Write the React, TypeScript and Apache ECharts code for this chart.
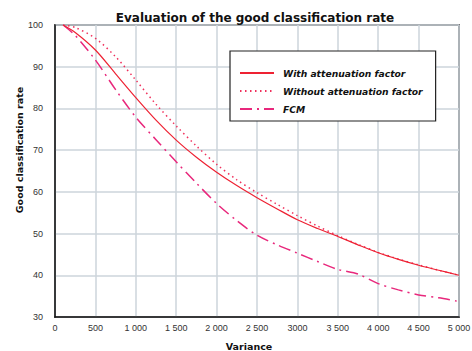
import React, { useEffect, useRef } from "react";
import * as echarts from "echarts";

const variance = [100, 250, 500, 750, 1000, 1250, 1500, 1750, 2000, 2250, 2500, 2750, 3000, 3250, 3500, 3750, 4000, 4250, 4500, 4750, 5000];
const withAttenuation = [100, 98.2, 94, 88.3, 82.6, 77.2, 72.4, 68.3, 64.7, 61.5, 58.6, 55.9, 53.3, 51.2, 49.3, 47.3, 45.4, 43.8, 42.4, 41.2, 40];
const withoutAttenuation = [100, 99.4, 96.8, 92.4, 86.8, 81, 75.8, 71, 66.6, 62.9, 59.8, 57, 54.3, 51.8, 49.5, 47.4, 45.5, 43.9, 42.5, 41.2, 40];
const fcm = [100, 97.5, 91.6, 84.5, 77.9, 72.5, 67.2, 62.1, 57.2, 53.1, 49.6, 47.3, 45.3, 43.3, 41.4, 40.3, 38, 36.5, 35.3, 34.6, 33.7];
const xTickValues = [0, 500, 1000, 1500, 2000, 2500, 3000, 3500, 4000, 4500, 5000];
const xTickLabels = ["0", "500", "1 000", "1 500", "2 000", "2 500", "3000", "3 500", "4 000", "4 500", "5 000"];
const seriesNames = ["With attenuation factor", "Without attenuation factor", "FCM"];

const FONT = "Liberation Sans, Arial, sans-serif";
const BOLD_FONT = "DejaVu Sans, Liberation Sans, sans-serif";

export default function App() {
  const ref = useRef<HTMLDivElement>(null);
  useEffect(() => {
    document.body.style.margin = "0";
    const chart = echarts.init(ref.current!, null, { renderer: "svg" });
    const pairs = (ys: number[]) => variance.map((x, i) => [x, ys[i]]);
    chart.setOption({
      animation: false,
      backgroundColor: "#ffffff",
      title: {
        text: "Evaluation of the good classification rate",
        left: 250,
        textAlign: "center",
        top: 7,
        textStyle: { fontFamily: BOLD_FONT, fontSize: 12, fontWeight: "bold", color: "#111" },
      },
      grid: {
        left: 55,
        right: 13,
        top: 25,
        bottom: 34,
        outerBoundsMode: "none",
        containLabel: false,
        show: true,
        borderColor: "#111",
        borderWidth: 1.5,
        backgroundColor: "transparent",
      },
      legend: {
        orient: "vertical",
        left: 230,
        top: 51,
        padding: [16, 13, 6, 9],
        backgroundColor: "#ffffff",
        borderColor: "#222",
        borderWidth: 1.2,
        itemWidth: 34,
        itemHeight: 12,
        itemGap: 6,
        data: seriesNames,
        itemStyle: { opacity: 0 },
        textStyle: {
          fontFamily: BOLD_FONT,
          fontSize: 9.2,
          fontWeight: "bold",
          fontStyle: "italic",
          color: "#111",
          lineHeight: 12,
          padding: [0, 0, 0, 4],
        },
      },
      xAxis: {
        type: "value",
        min: 0,
        max: 5000,
        interval: 500,
        name: "Variance",
        nameLocation: "middle",
        nameGap: 24,
        nameMoveOverlap: false,
        nameTextStyle: { fontFamily: BOLD_FONT, fontSize: 9.5, fontWeight: "bold", color: "#111", padding: [0, 16, 0, 0] },
        axisLine: { lineStyle: { color: "#111", width: 1.5 } },
        axisTick: { show: false },
        axisLabel: {
          fontFamily: FONT,
          fontSize: 9,
          color: "#333",
          margin: 6,
          formatter: (v: number) => {
            const i = xTickValues.indexOf(v);
            return i >= 0 ? xTickLabels[i] : "";
          },
        },
        splitLine: { show: true, lineStyle: { color: "#cdd5db", width: 1.5 } },
      },
      yAxis: {
        type: "value",
        min: 30,
        max: 100,
        interval: 10,
        name: "Good classification rate",
        nameLocation: "middle",
        nameGap: 31,
        nameMoveOverlap: false,
        nameTextStyle: { fontFamily: BOLD_FONT, fontSize: 9.5, fontWeight: "bold", color: "#111", padding: [0, 0, 0, 42] },
        axisLine: { show: true, lineStyle: { color: "#111", width: 1.5 } },
        axisTick: { show: false },
        axisLabel: { fontFamily: FONT, fontSize: 9, color: "#333", margin: 12 },
        splitLine: { show: true, lineStyle: { color: "#cdd5db", width: 1.5 } },
      },
      series: [
        {
          name: seriesNames[0],
          type: "line",
          data: pairs(withAttenuation),
          symbol: "none",
          smooth: 0.3,
          z: 4,
          lineStyle: { color: "#ee2233", width: 1.2, type: "solid" },
          itemStyle: { color: "#ee2233" },
        },
        {
          name: seriesNames[1],
          type: "line",
          data: pairs(withoutAttenuation),
          symbol: "none",
          smooth: 0.3,
          z: 3,
          lineStyle: { color: "#f0305c", width: 1.5, type: [1.5, 3.5] },
          itemStyle: { color: "#f0305c" },
        },
        {
          name: seriesNames[2],
          type: "line",
          data: pairs(fcm),
          symbol: "none",
          smooth: 0.3,
          z: 3,
          lineStyle: { color: "#e8287c", width: 1.5, type: [12, 5, 2, 5] },
          itemStyle: { color: "#e8287c" },
        },
      ],
    });
    return () => chart.dispose();
  }, []);
  return <div ref={ref} style={{ width: 472, height: 351 }} />;
}
